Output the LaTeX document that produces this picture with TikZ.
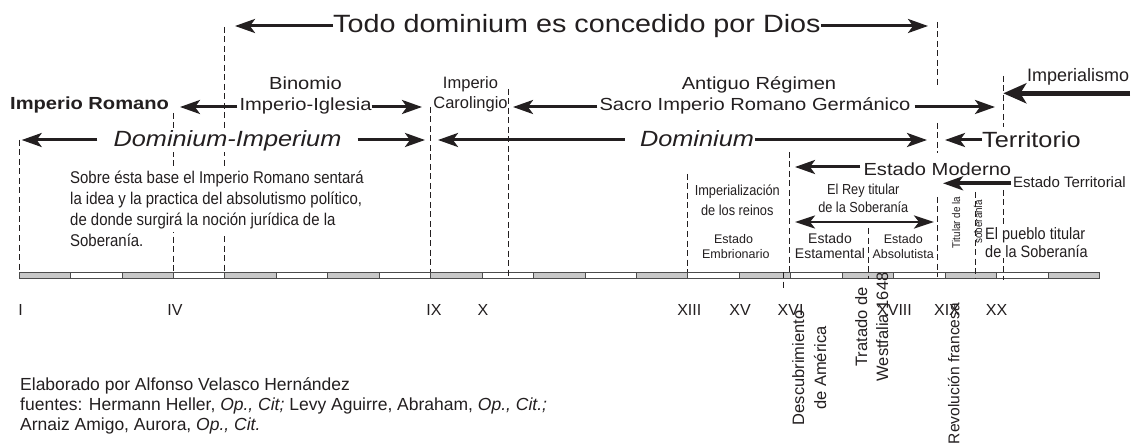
\documentclass[tikz,border=0pt]{standalone}
\usepackage{fontspec}
\setmainfont{Liberation Sans}
\newfontfamily\wf[FakeStretch=1.15]{Liberation Sans}
\newfontfamily\nf[FakeStretch=0.88]{Liberation Sans}
\usetikzlibrary{arrows.meta}
\definecolor{ink}{HTML}{231F20}
\definecolor{bargray}{HTML}{C8C8C8}
\newcommand{\fsz}[1]{\fontsize{#1}{#1}\selectfont}
\begin{document}
\begin{tikzpicture}[x=1pt,y=-1pt,
  txt/.style={inner sep=0pt, text=ink},
  msk/.style={txt, fill=white},
  arr/.style={draw=ink, line width=3pt, -{Stealth[length=20pt,width=14pt,inset=5pt]}},
  bigarr/.style={draw=ink, line width=4.5pt, -{Stealth[length=23pt,width=20pt,inset=6pt]}},
  dblarr/.style={draw=ink, line width=2.7pt, {Stealth[length=20pt,width=13pt,inset=5pt]}-{Stealth[length=20pt,width=13pt,inset=5pt]}},
  dashln/.style={draw=ink, line width=0.9pt, dash pattern=on 6pt off 3.5pt},
  segbox/.style={draw=black!70, line width=0.8pt}]
\useasboundingbox (0,0) rectangle (1147,446);
\fill[white] (0,0) rectangle (1147,446);

% timeline bar
\foreach \i in {0,...,20}{
  \pgfmathsetmacro{\xa}{19+\i*51.45}
  \pgfmathsetmacro{\xb}{19+(\i+1)*51.45}
  \pgfmathtruncatemacro{\ev}{mod(\i,2)}
  \ifnum\ev=0 \def\fc{bargray}\else\def\fc{white}\fi
  \draw[segbox, fill=\fc] (\xa,272) rectangle (\xb,278.5);
}

% dashed period lines
\draw[dashln] (19,140) -- (19,272);
\draw[dashln] (173,113) -- (173,272);
\draw[dashln] (224,27) -- (224,272);
\draw[dashln] (430,107) -- (430,272);
\draw[dashln] (508,89) -- (508,279);
\draw[dashln] (687,174) -- (687,272);
\draw[dashln] (789,152) -- (789,272);
\draw[dashln] (783,272) -- (783,289);
\draw[dashln] (868,228) -- (868,279);
\draw[dashln] (937,22) -- (937,85);
\draw[dashln] (937,123) -- (937,153);
\draw[dashln] (937,197) -- (937,277);
\draw[dashln] (975,192) -- (975,279);
\draw[dashln] (1003,76) -- (1003,127);
\draw[dashln] (1003,190) -- (1003,280);

% top row
\node[txt, anchor=base west] (todo) at (333,33) {\wf\fsz{25}Todo dominium es concedido por Dios};

% second row
\node[txt, anchor=base west] (improm) at (10,109.5) {\wf\bfseries\fsz{17.5}Imperio Romano};
\node[txt, anchor=base] (binomio) at (305.5,90) {\wf\fsz{17.5}Binomio};
\node[txt, anchor=base] (impigl) at (305.5,111) {\wf\fsz{17.5}Imperio-Iglesia};
\node[txt, anchor=base] (impc) at (470.5,88.5) {\fsz{16.5}Imperio};
\node[txt, anchor=base] (carol) at (470.5,108.5) {\fsz{16.5}Carolingio};
\node[txt, anchor=base] (antiguo) at (759,90) {\wf\fsz{17.5}Antiguo Régimen};
\node[txt, anchor=base] (sacro) at (755,111) {\wf\fsz{17.5}Sacro Imperio Romano Germánico};
\node[txt, anchor=base west] (imperialismo) at (1027,82) {\fsz{18}Imperialismo};

% third row
\node[msk, anchor=base] (domimp) at (227.5,147) {\wf\itshape\fsz{22}Dominium-Imperium};
\node[msk, anchor=base] (dominium) at (697,147) {\wf\itshape\fsz{22}Dominium};
\node[msk, anchor=base west] (territorio) at (982,148) {\wf\fsz{22}Territorio};

% paragraph
\node[msk, inner ysep=3pt, anchor=base west] (p1) at (70,184) {\nf\fsz{17}Sobre ésta base el Imperio Romano sentará};
\node[msk, inner ysep=3pt, anchor=base west] (p2) at (70,204.7) {\nf\fsz{17}la idea y la practica del absolutismo político,};
\node[msk, inner ysep=3pt, anchor=base west] (p3) at (70,225.3) {\nf\fsz{17}de donde surgirá la noción jurídica de la};
\node[msk, anchor=base west] (p4) at (70,246) {\nf\fsz{17}Soberanía.};

% modern era labels
\node[msk, anchor=base west] (moderno) at (863.3,175.5) {\wf\fsz{17.5}Estado Moderno};
\node[txt, anchor=base west] (estterr) at (1013,188) {\fsz{15}Estado Territorial};
\node[txt, anchor=base] (imper1) at (737.3,196) {\nf\fsz{14.5}Imperialización};
\node[txt, anchor=base] (imper2) at (737.3,215) {\nf\fsz{14.5}de los reinos};
\node[txt, anchor=base] (emb1) at (733.5,243.3) {\fsz{12.5}Estado};
\node[txt, anchor=base] (emb2) at (735.8,258.3) {\fsz{12.5}Embrionario};
\node[txt, anchor=base] (rey1) at (863.3,194.5) {\nf\fsz{14.5}El Rey titular};
\node[txt, anchor=base] (rey2) at (863.3,212.5) {\nf\fsz{14.5}de la Soberanía};
\node[txt, anchor=base] (estam1) at (830,243.3) {\fsz{14}Estado};
\node[txt, anchor=base] (estam2) at (830,258.3) {\fsz{14}Estamental};
\node[txt, anchor=base] (abs1) at (903.3,243.3) {\fsz{12.5}Estado};
\node[txt, anchor=base] (abs2) at (903.2,258.3) {\fsz{12.5}Absolutista};
\node[txt, anchor=base, rotate=90] (tit1) at (960,222.5) {\nf\fsz{11.2}Titular de la};
\node[txt, anchor=base, rotate=90] (tit2) at (982,221.7) {\nf\fsz{11.2}soberanía};
\node[msk, inner ysep=2.5pt, anchor=base west] (pueblo1) at (985,240) {\nf\fsz{16.5}El pueblo titular};
\node[msk, inner ysep=1pt, anchor=base west] (pueblo2) at (985,257) {\nf\fsz{16.5}de la Soberanía};

% century numerals
\foreach \nm/\xx in {I/20.5, IV/175, IX/434, X/483, XIII/689.3, XV/740, XVI/790.6, XVIII/894.5, XIX/947, XX/996.5}{
  \node[txt, anchor=base] (c\nm) at (\xx,315.5) {\fsz{16}\nm};
}

% rotated event labels
\node[txt, anchor=base, rotate=90] (desc1) at (804,368) {\fsz{16.5}Descubrimiento};
\node[txt, anchor=base, rotate=90] (desc2) at (826,368) {\fsz{16.5}de América};
\node[txt, anchor=base, rotate=90] (trat1) at (867,327) {\fsz{16.5}Tratado de};
\node[txt, anchor=base, rotate=90] (trat2) at (888,327) {\fsz{16.5}Westfalia 1648};
\node[txt, anchor=base, rotate=90] (rev) at (959.4,373.5) {\fsz{15.6}Revolución francesa};

% footer
\node[txt, anchor=base west] (f1) at (20,390) {\fsz{17.5}Elaborado por Alfonso Velasco Hernández};
\node[txt, anchor=base west] (f2) at (20,410.5) {\fsz{17.5}fuentes: Hermann Heller, \textit{Op., Cit;} Levy Aguirre, Abraham, \textit{Op., Cit.;}};
\node[txt, anchor=base west] (f3) at (20,430) {\fsz{17.5}Arnaiz Amigo, Aurora, \textit{Op., Cit.}};

% arrow tips
\coordinate (tTodoL) at (235,26);
\coordinate (tTodoR) at (928,26);
\coordinate (tIgL) at (180,107);
\coordinate (tIgR) at (422,107);
\coordinate (tSacL) at (513,107);
\coordinate (tSacR) at (995,107);
\coordinate (tDIL) at (21.7,140);
\coordinate (tDIR) at (425,140);
\coordinate (tDomL) at (438,140);
\coordinate (tDomR) at (927,140);
\coordinate (tTerL) at (945,140);
\coordinate (tModL) at (795,167);
\coordinate (tETL) at (943,183.3);
\coordinate (tImpL) at (1003.3,93.3);
\coordinate (sImp) at (1130,93.3);
\coordinate (reyL) at (795,222);
\coordinate (reyR) at (934,222);

% arrows
\draw[arr] (todo.west |- tTodoL) -- (tTodoL);
\draw[arr] (todo.east |- tTodoR) -- (tTodoR);
\draw[arr] ([xshift=-2pt]impigl.west |- tIgL) -- (tIgL);
\draw[arr] (impigl.east |- tIgR) -- (tIgR);
\draw[arr] ([xshift=-2pt]sacro.west |- tSacL) -- (tSacL);
\draw[arr] ([xshift=4pt]sacro.east |- tSacR) -- (tSacR);
\draw[arr] ([xshift=-16pt]domimp.west |- tDIL) -- (tDIL);
\draw[arr] ([xshift=16pt]domimp.east |- tDIR) -- (tDIR);
\draw[arr] ([xshift=-15pt]dominium.west |- tDomL) -- (tDomL);
\draw[arr] ([xshift=1pt]dominium.east |- tDomR) -- (tDomR);
\draw[arr] (territorio.west |- tTerL) -- (tTerL);
\draw[arr] ([xshift=-3pt]moderno.west |- tModL) -- (tModL);
\draw[arr, line width=3.6pt] ([xshift=-2pt]estterr.west |- tETL) -- (tETL);
\draw[bigarr] (sImp) -- (tImpL);
\draw[dblarr] (reyL) -- (reyR);
\end{tikzpicture}
\end{document}
